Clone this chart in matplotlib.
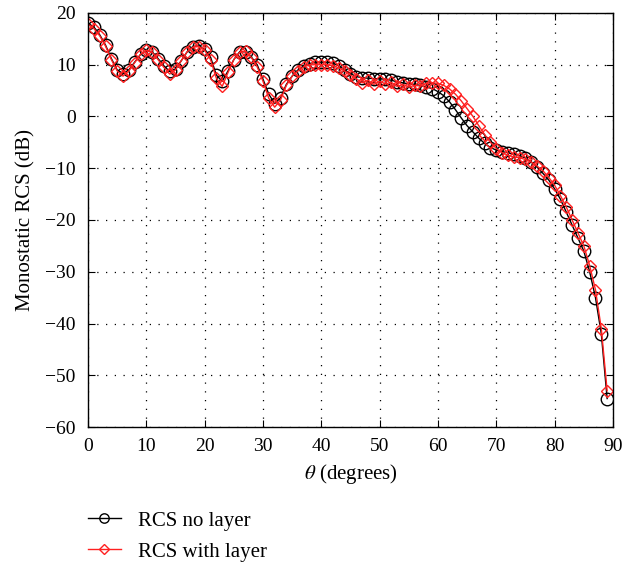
import numpy as np
import matplotlib
matplotlib.use('Agg')
import matplotlib.pyplot as plt

plt.rcParams['font.family'] = 'Liberation Serif'
plt.rcParams['mathtext.fontset'] = 'stix'

# angle in degrees
theta = np.arange(0, 90)

# RCS without layer (dB)
rcs_no_layer = [18.0, 17.3, 15.8, 13.8, 11.2, 9.0, 8.3, 9.0, 10.5, 12.0,
                12.8, 12.5, 11.2, 9.8, 8.7, 9.2, 10.8, 12.5, 13.5, 13.7,
                13.0, 11.5, 8.0, 6.8, 8.8, 11.0, 12.5, 12.5, 11.5, 10.0,
                7.2, 4.3, 2.5, 3.6, 6.2, 7.8, 9.0, 9.8, 10.2, 10.5,
                10.5, 10.5, 10.3, 9.8, 9.0, 8.3, 7.7, 7.5, 7.4, 7.3,
                7.3, 7.2, 7.0, 6.7, 6.5, 6.3, 6.2, 6.0, 5.7, 5.4,
                4.8, 4.0, 2.8, 1.3, -0.3, -1.8, -3.0, -4.2, -5.2, -6.0,
                -6.5, -6.8, -7.0, -7.3, -7.6, -8.0, -8.8, -9.8, -11.0, -12.3,
                -14.0, -16.0, -18.5, -21.0, -23.5, -26.0, -30.0, -35.0, -42.0, -54.5]

# RCS with layer (dB)
rcs_layer = [17.8, 17.0, 15.6, 13.6, 11.0, 8.8, 7.8, 8.8, 10.4, 12.0,
             12.8, 12.4, 11.0, 9.5, 8.2, 9.0, 10.8, 12.5, 13.4, 13.5,
             12.8, 11.0, 7.4, 5.8, 8.5, 11.0, 12.4, 12.6, 11.4, 9.6,
             6.8, 3.5, 1.8, 3.2, 6.0, 7.8, 8.8, 9.6, 10.0, 10.0,
             10.0, 10.0, 9.8, 9.4, 8.8, 8.0, 7.3, 6.5, 7.0, 6.2,
             6.8, 6.3, 6.6, 5.8, 6.2, 5.7, 6.0, 5.9, 6.4, 6.5,
             6.4, 6.0, 5.3, 4.3, 3.0, 1.5, 0.0, -1.8, -3.5, -5.0,
             -6.2, -7.0, -7.5, -7.8, -8.0, -8.3, -8.8, -9.6, -10.5, -11.8,
             -13.3, -15.3, -17.5, -20.0, -22.5, -25.0, -28.8, -33.5, -41.0, -53.0]

fig = plt.figure(figsize=(6.22, 5.62), dpi=100)
ax = fig.add_axes([0.1415, 0.2402, 0.8440, 0.7367])

ax.plot(theta, rcs_no_layer, '-o', color='black', lw=1, ms=9,
        mfc='none', mew=1, label='RCS no layer')
ax.plot(theta, rcs_layer, '-D', color='#ff2020', lw=1, ms=6.5,
        mfc='none', mew=1, label='RCS with layer')

ax.set_xlim(0, 90)
ax.set_ylim(-60, 20)
ax.set_xticks(np.arange(0, 91, 10))
ax.set_yticks(np.arange(-60, 21, 10))
ax.set_yticklabels([str(v).replace('-', '\u2212') for v in range(-60, 21, 10)])
ax.tick_params(direction='in', top=True, right=True, labelsize=14, length=5)
ax.tick_params(axis='x', pad=8)
ax.tick_params(axis='y', pad=9)
ax.grid(True, color='black', linestyle=(0, (1, 6)), linewidth=0.9)
for s in ax.spines.values():
    s.set_linewidth(1)

ax.set_xlabel(r'$\theta$ (degrees)', fontsize=15, labelpad=5)
ax.set_ylabel('Monostatic RCS (dB)', fontsize=15, labelpad=7)

fig.legend(loc='upper left', bbox_to_anchor=(0.111, 0.124), frameon=False,
           fontsize=15, handlelength=1.6, handletextpad=0.8, labelspacing=0.55,
           markerscale=0.75)

fig.savefig('out.png', dpi=100)
